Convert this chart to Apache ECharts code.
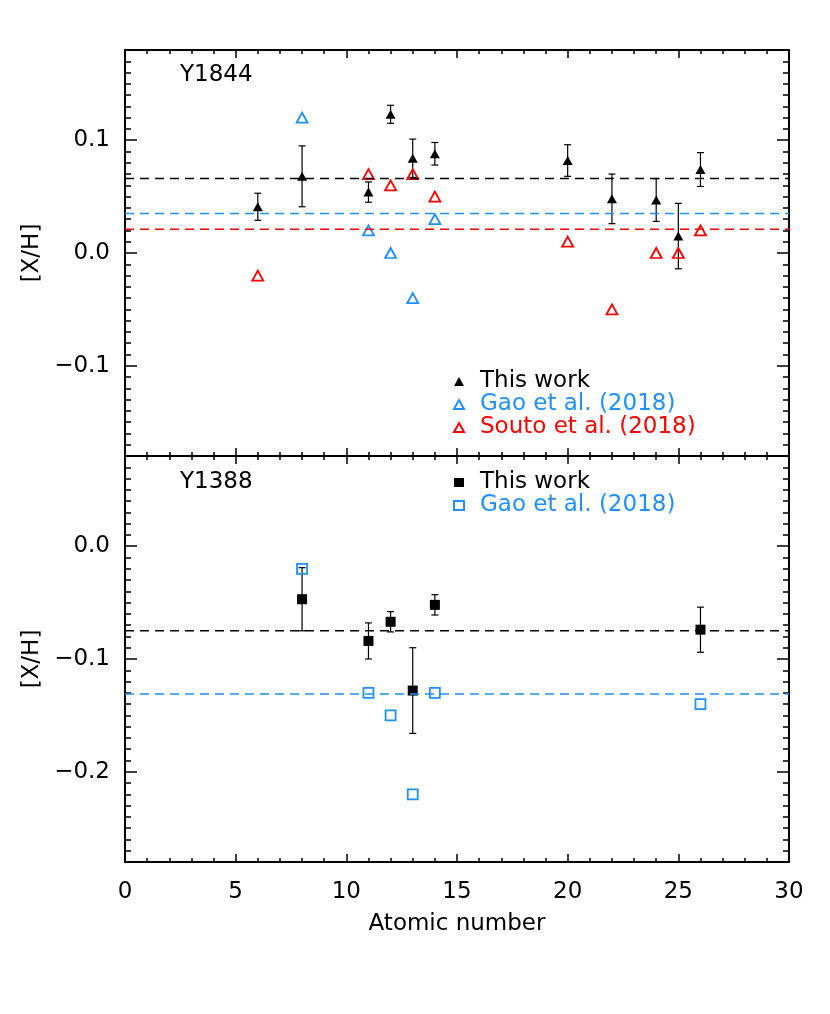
<!DOCTYPE html>
<html>
<head>
<meta charset="utf-8">
<script src="https://cdn.jsdelivr.net/npm/echarts@6/dist/echarts.min.js"></script>
<style>
  html, body { margin: 0; padding: 0; background: #fff; }
  #chart { width: 830px; height: 1014px; }
</style>
</head>
<body>
<div id="chart"></div>
<script>
// Y1844 (top panel)
const y1844Elem = [6, 8, 11, 12, 13, 14, 20, 22, 24, 25, 26];
const y1844Work = [0.041, 0.068, 0.054, 0.123, 0.084, 0.088, 0.082, 0.048, 0.047, 0.015, 0.074];
const y1844Err = [0.012, 0.027, 0.009, 0.008, 0.017, 0.010, 0.014, 0.022, 0.019, 0.029, 0.015];
const y1844GaoElem = [8, 11, 12, 13, 14];
const y1844Gao = [0.12, 0.02, 0.00, -0.04, 0.03];
const y1844SoutoElem = [6, 11, 12, 13, 14, 20, 22, 24, 25, 26];
const y1844Souto = [-0.02, 0.07, 0.06, 0.07, 0.05, 0.01, -0.05, 0.00, 0.00, 0.02];
const y1844Means = [0.066, 0.035, 0.021]; // this work, Gao, Souto

// Y1388 (bottom panel)
const y1388Elem = [8, 11, 12, 13, 14, 26];
const y1388Work = [-0.047, -0.084, -0.067, -0.128, -0.052, -0.074];
const y1388Err = [0.028, 0.016, 0.009, 0.038, 0.009, 0.020];
const y1388Gao = [-0.02, -0.13, -0.15, -0.22, -0.13, -0.14];
const y1388Means = [-0.075, -0.131]; // this work, Gao

const BLUE = '#1e90ff';
const RED = '#ff0000';
const FONT = 'DejaVu Sans';

const zip = (xs, ys) => xs.map((x, i) => [x, ys[i]]);
const zip3 = (xs, ys, es) => xs.map((x, i) => [x, ys[i], es[i]]);

function fmtY(v) {
  if (Math.abs(v * 10 - Math.round(v * 10)) > 1e-6) return '';
  return (v < -1e-9 ? '\u2212' : '') + Math.abs(v).toFixed(1);
}

function errorBars(params, api) {
  const x = api.value(0), y = api.value(1), e = api.value(2);
  const top = api.coord([x, y + e]);
  const bot = api.coord([x, y - e]);
  const hw = 3.5;
  const style = { stroke: '#000', lineWidth: 1.2 };
  return {
    type: 'group',
    children: [
      { type: 'line', shape: { x1: top[0], y1: top[1], x2: bot[0], y2: bot[1] }, style },
      { type: 'line', shape: { x1: top[0] - hw, y1: top[1], x2: top[0] + hw, y2: top[1] }, style },
      { type: 'line', shape: { x1: bot[0] - hw, y1: bot[1], x2: bot[0] + hw, y2: bot[1] }, style }
    ]
  };
}

const grids = [
  { left: 125, right: 41, top: 50, height: 406 },
  { left: 125, right: 41, top: 456, height: 406 }
];
const yRanges = [[-0.18, 0.18], [-0.28, 0.08]];

const axisLine = { show: true, onZero: false, lineStyle: { color: '#000', width: 1.8 } };

const xAxes = [];
grids.forEach((g, i) => {
  ['bottom', 'top'].forEach(pos => {
    const showLab = i === 1 && pos === 'bottom';
    xAxes.push({
      type: 'value', gridIndex: i, position: pos, min: 0, max: 30, interval: 5,
      axisLine,
      axisTick: { show: true, inside: true, length: 8, lineStyle: { color: '#000', width: 1.5 } },
      minorTick: { show: true, splitNumber: 5, length: 4, lineStyle: { color: '#000', width: 1.5 } },
      splitLine: { show: false },
      axisLabel: { show: showLab, color: '#000', fontSize: 23, fontFamily: FONT, margin: 19 },
      name: showLab ? 'Atomic number' : '',
      nameLocation: 'middle', nameGap: 51,
      nameTextStyle: { color: '#000', fontSize: 23, fontFamily: FONT }
    });
  });
});

const yAxes = [];
grids.forEach((g, i) => {
  ['left', 'right'].forEach(pos => {
    // minor ticks every 0.01
    yAxes.push({
      type: 'value', gridIndex: i, position: pos, min: yRanges[i][0], max: yRanges[i][1], interval: 0.01,
      axisLine,
      axisTick: { show: true, inside: true, length: 6, lineStyle: { color: '#000', width: 1.5 } },
      axisLabel: { show: false }, splitLine: { show: false }
    });
    // major ticks every 0.1 with labels
    yAxes.push({
      type: 'value', gridIndex: i, position: pos, min: yRanges[i][0], max: yRanges[i][1], splitNumber: 3,
      axisLine,
      axisTick: { show: true, inside: true, length: 12, lineStyle: { color: '#000', width: 1.5 } },
      axisLabel: { show: pos === 'left', color: '#000', fontSize: 23, fontFamily: FONT, margin: 15, formatter: fmtY },
      splitLine: { show: false },
      name: pos === 'left' ? '[X/H]' : '',
      nameLocation: 'middle', nameRotate: 90, nameGap: 76,
      nameTextStyle: { color: '#000', fontSize: 23, fontFamily: FONT }
    });
  });
});

function meanLine(v, color, xi, yi) {
  return {
    type: 'line', xAxisIndex: xi, yAxisIndex: yi, data: [[0, v], [30, v]],
    showSymbol: false, silent: true,
    lineStyle: { color, width: 1.6, type: [9, 6] }
  };
}

const openStyle = c => ({ color: 'rgba(0,0,0,0)', borderColor: c, borderWidth: 1.8, opacity: 1 });
const fillStyle = { color: '#000', opacity: 1 };

const series = [
  // top panel
  meanLine(y1844Means[0], '#000', 0, 1),
  meanLine(y1844Means[1], BLUE, 0, 1),
  meanLine(y1844Means[2], RED, 0, 1),
  { type: 'custom', xAxisIndex: 0, yAxisIndex: 1, renderItem: errorBars, silent: true,
    encode: { x: 0, y: 1 }, data: zip3(y1844Elem, y1844Work, y1844Err) },
  { name: 'This work|a', type: 'scatter', xAxisIndex: 0, yAxisIndex: 1, symbol: 'triangle', symbolSize: [10, 9],
    itemStyle: fillStyle, data: zip(y1844Elem, y1844Work) },
  { name: 'Gao et al. (2018)|a', type: 'scatter', xAxisIndex: 0, yAxisIndex: 1, symbol: 'triangle', symbolSize: [11, 10],
    itemStyle: openStyle(BLUE), data: zip(y1844GaoElem, y1844Gao) },
  { name: 'Souto et al. (2018)|a', type: 'scatter', xAxisIndex: 0, yAxisIndex: 1, symbol: 'triangle', symbolSize: [11, 10],
    itemStyle: openStyle(RED), data: zip(y1844SoutoElem, y1844Souto) },
  // bottom panel
  meanLine(y1388Means[0], '#000', 2, 5),
  meanLine(y1388Means[1], BLUE, 2, 5),
  { type: 'custom', xAxisIndex: 2, yAxisIndex: 5, renderItem: errorBars, silent: true,
    encode: { x: 0, y: 1 }, data: zip3(y1388Elem, y1388Work, y1388Err) },
  { name: 'This work|b', type: 'scatter', xAxisIndex: 2, yAxisIndex: 5, symbol: 'rect', symbolSize: 10,
    itemStyle: fillStyle, data: zip(y1388Elem, y1388Work) },
  { name: 'Gao et al. (2018)|b', type: 'scatter', xAxisIndex: 2, yAxisIndex: 5, symbol: 'rect', symbolSize: 10,
    itemStyle: openStyle(BLUE), data: zip(y1388Elem, y1388Gao) }
];

const legendBase = {
  orient: 'vertical', left: 453, itemWidth: 10, itemHeight: 9, itemGap: 0, padding: 0,
  selectedMode: false, formatter: n => n.split('|')[0],
  textStyle: { fontSize: 23, fontFamily: FONT, lineHeight: 22, padding: [0, 0, 0, 11] }
};

const chart = echarts.init(document.getElementById('chart'), null, { renderer: 'canvas' });
chart.setOption({
  animation: false,
  textStyle: { fontFamily: FONT },
  title: [
    { text: 'Y1844', left: 180, top: 64, padding: 0,
      textStyle: { fontSize: 23, fontWeight: 'normal', color: '#000', fontFamily: FONT } },
    { text: 'Y1388', left: 180, top: 471, padding: 0,
      textStyle: { fontSize: 23, fontWeight: 'normal', color: '#000', fontFamily: FONT } }
  ],
  legend: [
    Object.assign({}, legendBase, { top: 370, data: [
      { name: 'This work|a', textStyle: { color: '#000' } },
      { name: 'Gao et al. (2018)|a', textStyle: { color: BLUE } },
      { name: 'Souto et al. (2018)|a', textStyle: { color: RED } }
    ] }),
    Object.assign({}, legendBase, { top: 471, data: [
      { name: 'This work|b', textStyle: { color: '#000' } },
      { name: 'Gao et al. (2018)|b', textStyle: { color: BLUE } }
    ] })
  ],
  grid: grids,
  xAxis: xAxes,
  yAxis: yAxes,
  series
});
</script>
</body>
</html>
